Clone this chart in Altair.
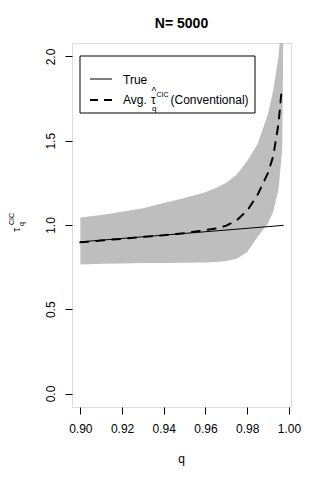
import altair as alt
import pandas as pd

# ---- data ----
band_q = [0.90, 0.91, 0.92, 0.93, 0.94, 0.95, 0.96, 0.965, 0.97, 0.975, 0.98,
          0.985, 0.99, 0.9925, 0.995, 0.9968, 0.9975]
band_upper = [1.045, 1.06, 1.078, 1.10, 1.13, 1.16, 1.195, 1.22, 1.25, 1.30, 1.38,
              1.48, 1.66, 1.80, 2.0, 2.25, 2.4]
band_lower = [0.765, 0.77, 0.772, 0.774, 0.775, 0.776, 0.777, 0.78, 0.787, 0.80, 0.84,
              0.93, 1.01, 1.08, 1.21, 1.45, 2.4]

avg_q = [0.90, 0.91, 0.92, 0.93, 0.94, 0.95, 0.96, 0.965, 0.97, 0.975, 0.98,
         0.985, 0.99, 0.9925, 0.995, 0.9965]
avg_val = [0.897, 0.908, 0.918, 0.929, 0.939, 0.952, 0.970, 0.980, 0.996, 1.028, 1.085,
           1.18, 1.31, 1.41, 1.60, 1.80]

true_q = [0.90, 0.95, 0.9975]
true_val = [0.90, 0.95, 0.998]

x_ticks = [0.90, 0.92, 0.94, 0.96, 0.98, 1.00]
y_ticks = [0.0, 0.5, 1.0, 1.5, 2.0]

title_text = "N= 5000"
x_title = "q"
legend_true = "True"
legend_avg_pre = "Avg."
legend_avg_post = "(Conventional)"

band_df = pd.DataFrame({"q": band_q, "lo": band_lower, "hi": band_upper})
avg_df = pd.DataFrame({"q": avg_q, "v": avg_val})
true_df = pd.DataFrame({"q": true_q, "v": true_val})
one = pd.DataFrame({"a": [0]})

FONT = "Liberation Sans"
xs = alt.Scale(domain=[0.896, 1.001], nice=False, zero=False)
ys = alt.Scale(domain=[-0.08, 2.08], nice=False, zero=False)

x_axis = alt.Axis(values=x_ticks, format=".2f", title=None, grid=False, domain=False,
                  tickSize=7, tickColor="black", labelPadding=9, labelFont=FONT,
                  labelFontSize=12, labelColor="black", labelFlush=False)
y_axis = alt.Axis(values=y_ticks, format=".1f", title=None, grid=False, domain=False,
                  tickSize=7, tickColor="black", labelPadding=11, labelFont=FONT,
                  labelFontSize=12, labelColor="black", labelAngle=270,
                  labelAlign="center", labelBaseline="alphabetic", labelFlush=False)

band = alt.Chart(band_df).mark_area(color="#bebebe", opacity=1, clip=True).encode(
    x=alt.X("q:Q", scale=xs, axis=x_axis),
    y=alt.Y("lo:Q", scale=ys, axis=y_axis),
    y2="hi:Q",
)

true_line = alt.Chart(true_df).mark_line(color="black", strokeWidth=1, clip=True).encode(
    x=alt.X("q:Q", scale=xs), y=alt.Y("v:Q", scale=ys)
)

avg_line = alt.Chart(avg_df).mark_line(color="black", strokeWidth=2, strokeDash=[8, 8],
                                       strokeCap="round", clip=True).encode(
    x=alt.X("q:Q", scale=xs), y=alt.Y("v:Q", scale=ys)
)

# ---- legend (manual, to get the plotmath-like label) ----
leg_box = alt.Chart(one).mark_rect(fill="white", stroke="black", strokeWidth=1).encode(
    x=alt.value(8), x2=alt.value(183), y=alt.value(13), y2=alt.value(70)
)
leg_true_line = alt.Chart(one).mark_rule(color="black", strokeWidth=1).encode(
    x=alt.value(18), x2=alt.value(40), y=alt.value(36)
)
leg_avg_line = alt.Chart(one).mark_rule(color="black", strokeWidth=2, strokeDash=[8, 6]).encode(
    x=alt.value(18), x2=alt.value(40), y=alt.value(57)
)


def txt(s, x, y, size=12, align="left", baseline="alphabetic", angle=0, weight="normal"):
    return alt.Chart(one).mark_text(text=s, font=FONT, fontSize=size, align=align,
                                    baseline=baseline, angle=angle, fontWeight=weight,
                                    color="black").encode(x=alt.value(x), y=alt.value(y))


leg_texts = [
    txt(legend_true, 51, 40.5),
    txt(legend_avg_pre, 51, 60.5),
    txt("τ", 79, 60.5),
    txt("^", 79.5, 52, size=10),
    txt("CIC", 84.5, 53.5, size=7),
    txt("q", 80, 68, size=8),
    txt(legend_avg_post, 98.5, 60.5),
]

# ---- titles ----
title = txt(title_text, 109.5, -15, size=14, align="center", weight="bold")
xlab = txt(x_title, 109.5, 420, size=12, align="center")
ylab = [
    txt("τ", -52, 189, size=11, angle=270),
    txt("CIC", -58.5, 182, size=7, angle=270),
    txt("q", -48, 183, size=7, angle=270),
]

chart = alt.layer(band, true_line, avg_line, leg_box, leg_true_line, leg_avg_line,
                  *leg_texts, title, xlab, *ylab).properties(
    width=219, height=364,
    padding={"left": 64, "top": 35, "right": 21, "bottom": 60},
    autosize=alt.AutoSizeParams(type="none"),
).configure_view(stroke="black", strokeWidth=1).configure(background="white")

chart.save("out.html", embed_options={"renderer": "svg", "actions": False})
